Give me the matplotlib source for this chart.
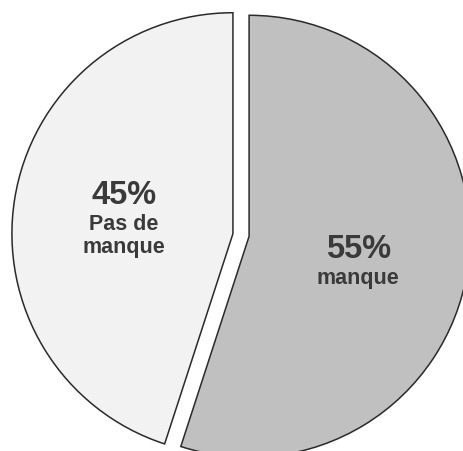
import numpy as np
import matplotlib
matplotlib.use("Agg")
import matplotlib.pyplot as plt

# slice data
labels = ["manque", "Pas de\nmanque"]
shares = [55, 45]
colors = ["#c0c0c0", "#f2f2f2"]

plt.rcParams['font.family'] = ['Liberation Sans', 'DejaVu Sans']

fig = plt.figure(figsize=(4.64, 4.52), dpi=100)
ax = fig.add_axes([0, 0, 1, 1])

wedges, _ = ax.pie(shares, colors=colors, startangle=90, counterclock=False,
                   explode=[0.037, 0.037], radius=1.0,
                   wedgeprops=dict(edgecolor="#2a2a2a", linewidth=1.1))

# percentage + label inside each wedge, block roughly centred on the wedge
for w, lab, val in zip(wedges, labels, shares):
    mid = np.deg2rad((w.theta1 + w.theta2) / 2.)
    cx, cy = w.center
    x = cx + 0.5 * np.cos(mid)
    y = cy + 0.5 * np.sin(mid)
    nlines = lab.count('\n') + 1
    base = y - 0.014 + 0.073 * (nlines - 1)
    ax.text(x, base, '{}%'.format(val), ha='center', va='baseline',
            fontsize=23.5, fontweight='bold', color='#3a3a3a')
    ax.text(x, base - 0.045, lab, ha='center', va='top', fontsize=15.5,
            fontweight='bold', color='#3a3a3a', linespacing=1.08)

# pie is slightly cropped on the right and bottom, as in the original
ax.set_xlim(-1.0905, 1.009)
ax.set_ylim(-0.9773, 1.0679)
ax.set_aspect('equal')
ax.axis('off')

fig.savefig('out.png', dpi=100, facecolor='white')
